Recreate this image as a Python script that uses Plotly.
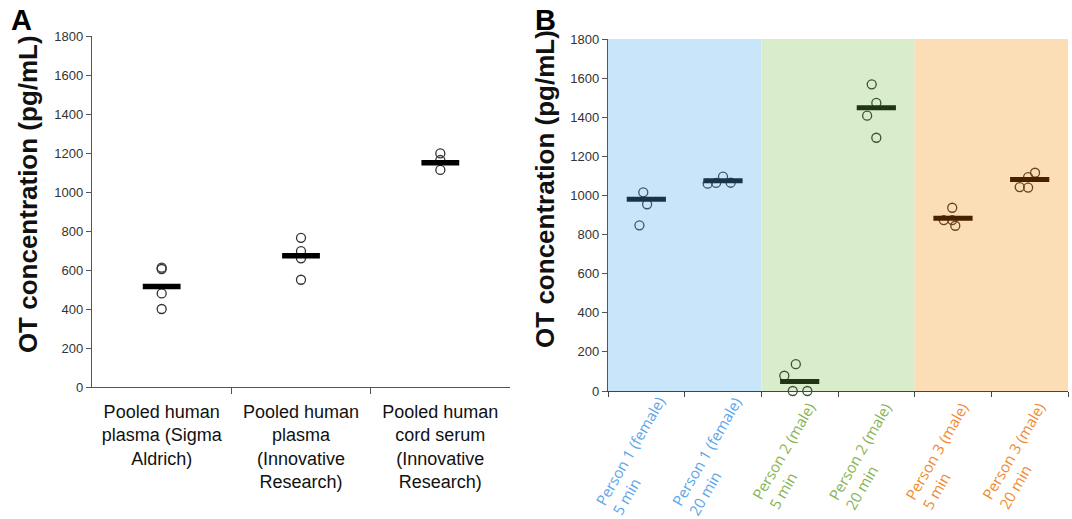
import plotly.graph_objects as go

# ---------------- data ----------------
a_categories = [
    "Pooled human<br>plasma (Sigma<br>Aldrich)",
    "Pooled human<br>plasma<br>(Innovative<br>Research)",
    "Pooled human<br>cord serum<br>(Innovative<br>Research)",
]
a_values = [[605, 612, 480, 400], [765, 697, 660, 550], [1198, 1164, 1113]]
a_means = [515, 673, 1150]

b_categories = [
    "Person 1 (female)<br>5 min",
    "Person 1 (female)<br>20 min",
    "Person 2 (male)<br>5 min",
    "Person 2 (male)<br>20 min",
    "Person 3 (male)<br>5 min",
    "Person 3 (male)<br>20 min",
]
b_values = [
    [1016, 955, 847],
    [1060, 1064, 1096, 1065],
    [78, 137, 0, 0],
    [1568, 1473, 1408, 1295],
    [937, 874, 874, 845],
    [1116, 1094, 1043, 1040],
]
b_jitter = [
    [-0.04, 0.01, -0.09],
    [-0.2, -0.09, 0.0, 0.1],
    [-0.2, -0.05, -0.09, 0.1],
    [-0.06, 0.0, -0.12, 0.0],
    [-0.01, -0.12, -0.01, 0.03],
    [0.07, -0.02, -0.13, -0.02],
]
b_means = [980, 1075, 48, 1449, 883, 1081]
b_group = [0, 0, 1, 1, 2, 2]

# ---------------- styles ----------------
band_colors = ["#C9E5F9", "#D9ECCB", "#FBDDB6"]
circle_colors = ["#3F5566", "#3F5233", "#6B4522"]
mean_colors = ["#1B3349", "#1F3514", "#4A2100"]
label_colors = ["#5BA6EA", "#86B454", "#F28A30"]
axis_color = "#555555"
W, H = 1072, 519

fig = go.Figure()

# Panel A
for i, vals in enumerate(a_values):
    fig.add_trace(go.Scatter(
        x=[i] * len(vals), y=vals, mode="markers", xaxis="x", yaxis="y",
        marker=dict(symbol="circle-open", size=9, color="#333333", line=dict(width=1.3)),
        cliponaxis=False, hoverinfo="y"))
fig.add_trace(go.Scatter(
    x=list(range(len(a_means))), y=a_means, mode="markers", xaxis="x", yaxis="y",
    marker=dict(symbol="line-ew", size=27, color="black", line=dict(width=5.5, color="black")),
    cliponaxis=False, hoverinfo="y"))

# Panel B
for i, vals in enumerate(b_values):
    g = b_group[i]
    fig.add_trace(go.Scatter(
        x=[i + j for j in b_jitter[i]], y=vals, mode="markers", xaxis="x2", yaxis="y2",
        marker=dict(symbol="circle-open", size=9, color=circle_colors[g], line=dict(width=1.3)),
        cliponaxis=False, hoverinfo="y"))
for i, m in enumerate(b_means):
    g = b_group[i]
    fig.add_trace(go.Scatter(
        x=[i], y=[m], mode="markers", xaxis="x2", yaxis="y2",
        marker=dict(symbol="line-ew", size=28, color=mean_colors[g],
                    line=dict(width=5, color=mean_colors[g])),
        cliponaxis=False, hoverinfo="y"))

shapes = []
for g in sorted(set(b_group)):
    idx = [i for i, gg in enumerate(b_group) if gg == g]
    shapes.append(dict(type="rect", xref="x2", yref="y2",
                       x0=min(idx) - 0.5, x1=max(idx) + 0.5, y0=0, y1=1800,
                       fillcolor=band_colors[g], line=dict(width=0), layer="below"))

annotations = []
for i, lab in enumerate(b_categories):
    annotations.append(dict(
        text=lab, xref="x2", yref="paper", x=i - 0.1, y=0.121,
        xanchor="center", yanchor="middle", textangle=-60, align="left",
        showarrow=False, font=dict(family="Open Sans", size=15, color=label_colors[b_group[i]])))

ytitle = "OT concentration (pg/mL)"
annotations.append(dict(text="<b>%s</b>" % ytitle, xref="paper", yref="paper",
                        x=28 / W, y=0.626, xanchor="center", yanchor="middle",
                        textangle=-90, showarrow=False,
                        font=dict(family="Liberation Sans", size=26, color="#111111")))
annotations.append(dict(text="<b>%s</b>" % ytitle, xref="paper", yref="paper",
                        x=545 / W, y=0.636, xanchor="center", yanchor="middle",
                        textangle=-90, showarrow=False,
                        font=dict(family="Liberation Sans", size=26, color="#111111")))
annotations.append(dict(text="<b>A</b>", xref="paper", yref="paper", x=9 / W, y=1 - 2 / H,
                        xanchor="left", yanchor="top", showarrow=False,
                        font=dict(family="Liberation Sans", size=29, color="#000000")))
annotations.append(dict(text="<b>B</b>", xref="paper", yref="paper", x=533 / W, y=1 - 2 / H,
                        xanchor="left", yanchor="top", showarrow=False,
                        font=dict(family="Liberation Sans", size=29, color="#000000")))

yaxis_common = dict(range=[0, 1800], dtick=200, tick0=0, ticks="outside", ticklen=5,
                    tickcolor=axis_color, showline=True, linecolor=axis_color, linewidth=1.3,
                    showgrid=False, zeroline=False,
                    tickfont=dict(family="Liberation Sans", size=13, color="#333333"))

fig.update_layout(
    width=W, height=H, margin=dict(l=0, r=0, t=0, b=0, autoexpand=False),
    plot_bgcolor="white", paper_bgcolor="white", showlegend=False,
    xaxis=dict(domain=[92 / W, 510 / W], range=[-0.5, len(a_categories) - 0.5], anchor="y",
               tickmode="array", tickvals=list(range(len(a_categories))), ticktext=a_categories,
               ticks="", ticklabelstandoff=8, showline=True, linecolor=axis_color, linewidth=1.3,
               showgrid=False, zeroline=False, automargin=False,
               minor=dict(tickmode="array", tickvals=[0.5, 1.5], ticks="outside",
                          ticklen=6, tickcolor=axis_color, showgrid=False),
               tickfont=dict(family="Liberation Sans", size=18, color="#111111")),
    yaxis=dict(domain=[132 / H, 483 / H], anchor="x", automargin=False, **yaxis_common),
    xaxis2=dict(domain=[608 / W, 1068 / W], range=[-0.5, len(b_categories) - 0.5], anchor="y2",
                showticklabels=False, ticks="", showline=True, linecolor="#444444", linewidth=1.3,
                showgrid=False, zeroline=False, automargin=False,
                minor=dict(tickmode="array",
                           tickvals=[k - 0.5 for k in range(len(b_categories) + 1)],
                           ticks="outside", ticklen=5, tickcolor="#444444", showgrid=False)),
    yaxis2=dict(domain=[128 / H, 480 / H], anchor="x2", automargin=False, **yaxis_common),
    shapes=shapes, annotations=annotations,
)

fig.write_html("out.html",
               config={"displayModeBar": False, "responsive": False},
               post_script="document.body.style.margin='0';document.body.style.overflow='hidden';")
